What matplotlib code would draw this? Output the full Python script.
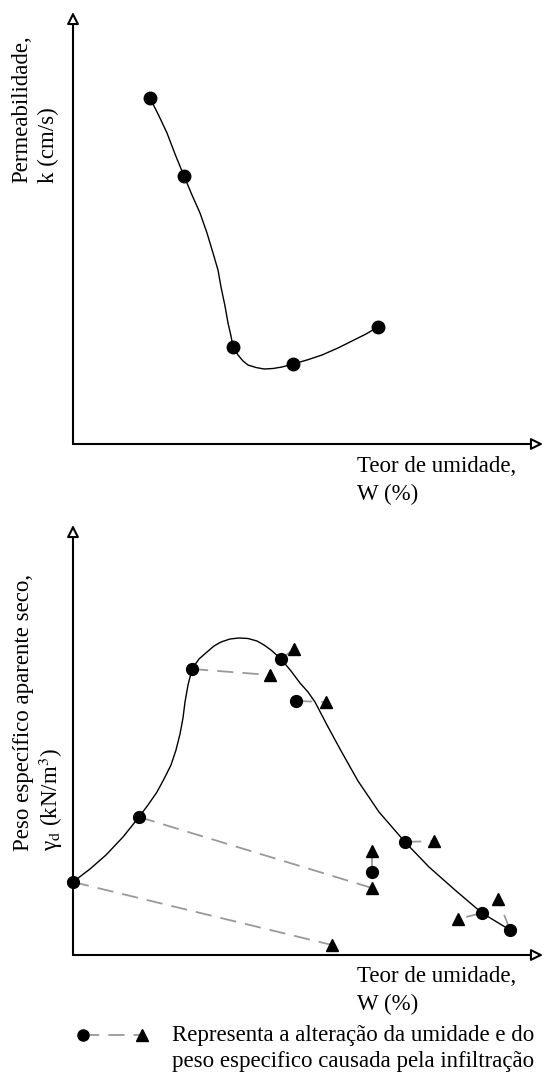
import matplotlib
matplotlib.use("Agg")
import matplotlib.pyplot as plt

plt.rcParams['font.family'] = ['Liberation Serif', 'DejaVu Serif']
plt.rcParams['mathtext.fontset'] = 'stix'

# top chart: permeability vs moisture (schematic units)
k_pts_x = [77, 111, 160, 220, 305]
k_pts_y = [346, 268, 97, 80, 117]
k_curve_x = [77, 86, 94, 102, 111, 119, 127, 134, 140, 145, 148, 152, 155, 158,
             160, 165, 170, 175, 183, 191, 200, 209, 220, 234, 249, 265, 281, 293, 305]
k_curve_y = [346, 328, 311, 290, 268, 249, 231, 211, 191, 174, 157, 138, 121, 108,
             97, 89, 83, 79, 76.5, 75, 75.5, 77, 80, 84, 89, 96, 104, 110, 117]

# bottom chart: compaction curve
g_curve_x = [0, 17, 33, 50, 66, 75, 84, 91, 98, 103, 107, 110, 112, 115, 119,
             126, 134, 141, 148, 157, 166, 175, 184, 191, 198, 208,
             218, 227, 235, 242, 254, 267, 285, 306, 332, 356, 382, 409, 437]
g_curve_y = [73, 86, 100, 118, 138, 150, 163, 176, 190, 205, 221, 237, 253, 270, 286,
             296, 303, 309, 313, 316, 317, 316.5, 314, 310, 305, 296,
             284, 272, 263, 253, 230, 206, 174, 143, 113, 88, 65, 42, 25]

# points before infiltration (circles) and after (triangles)
circ_x = [0, 66, 119, 208, 223, 299, 332, 409, 437]
circ_y = [73, 138, 286, 296, 254, 83, 113, 42, 25]
tri_x = [259, 299, 197, 221, 253, 299, 361, 385, 425]
tri_y = [10, 67, 280, 306, 253, 104, 114, 36, 56]

fs = 16.5


def draw_axes(ax, w, h):
    ax.set_xlim(0, w)
    ax.set_ylim(0, h)
    ax.axis('off')
    arrow = dict(arrowstyle='-|>,head_length=0.7,head_width=0.35',
                 fc='white', ec='black', lw=1.5, shrinkA=0, shrinkB=0)
    ax.annotate('', xy=(0, 1), xytext=(0, 0), xycoords='axes fraction',
                arrowprops=arrow)
    ax.annotate('', xy=(1, 0), xytext=(0, 0), xycoords='axes fraction',
                arrowprops=arrow)


fig = plt.figure(figsize=(5.59, 10.77), dpi=100)
W, H = 559, 1077

# top plot
ax1 = fig.add_axes([73 / W, (H - 444) / H, 470 / W, 432 / H])
draw_axes(ax1, 470, 432)
ax1.plot(k_curve_x, k_curve_y, color='black', lw=1.0)
ax1.plot(k_pts_x, k_pts_y, 'o', color='black', ms=9, clip_on=False)

fig.text(22 / W, 1 - 183 / H, 'Permeabilidade,', rotation=90, fontsize=fs,
         ha='center', va='bottom')
fig.text(48 / W, 1 - 183 / H, 'k (cm/s)', rotation=90, fontsize=fs,
         ha='center', va='bottom')
fig.text(357 / W, 1 - 467 / H, 'Teor de umidade,', fontsize=fs, va='center')
fig.text(357 / W, 1 - 494 / H, 'W (%)', fontsize=fs, va='center')

# bottom plot
ax2 = fig.add_axes([73 / W, (H - 955) / H, 470 / W, 430 / H])
draw_axes(ax2, 470, 430)
ax2.plot(g_curve_x, g_curve_y, color='black', lw=1.0)
for cx, cy, tx, ty in zip(circ_x, circ_y, tri_x, tri_y):
    ax2.plot([cx, tx], [cy, ty], color='#999999', lw=1.3,
             dashes=(9, 5), clip_on=False)
ax2.plot(circ_x, circ_y, 'o', color='black', ms=8.5, clip_on=False)
ax2.plot(tri_x, tri_y, '^', color='black', ms=8.5, clip_on=False)

fig.text(24 / W, 1 - 851 / H, 'Peso específico aparente seco,', rotation=90,
         fontsize=fs, ha='center', va='bottom')
fig.text(51 / W, 1 - 851 / H, r'γ$_\mathrm{d}$ (kN/m$^3$)', rotation=90,
         fontsize=fs, ha='center', va='bottom')
fig.text(357 / W, 1 - 977 / H, 'Teor de umidade,', fontsize=fs, va='center')
fig.text(357 / W, 1 - 1004 / H, 'W (%)', fontsize=fs, va='center')

# legend
leg = fig.add_axes([75 / W, 1 - 1045 / H, 75 / W, 20 / H])
leg.set_xlim(0, 75)
leg.set_ylim(0, 20)
leg.axis('off')
leg.plot([8, 67], [10, 10], color='#999999', lw=1.3, dashes=(9, 5))
leg.plot([8], [10], 'o', color='black', ms=8, clip_on=False)
leg.plot([67], [10], '^', color='black', ms=8, clip_on=False)
fig.text(172 / W, 1 - 1035 / H, 'Representa a alteração da umidade e do',
         fontsize=fs, va='center')
fig.text(172 / W, 1 - 1061 / H, 'peso especifico causada pela infiltração',
         fontsize=fs, va='center')

fig.savefig('out.png', dpi=100)
